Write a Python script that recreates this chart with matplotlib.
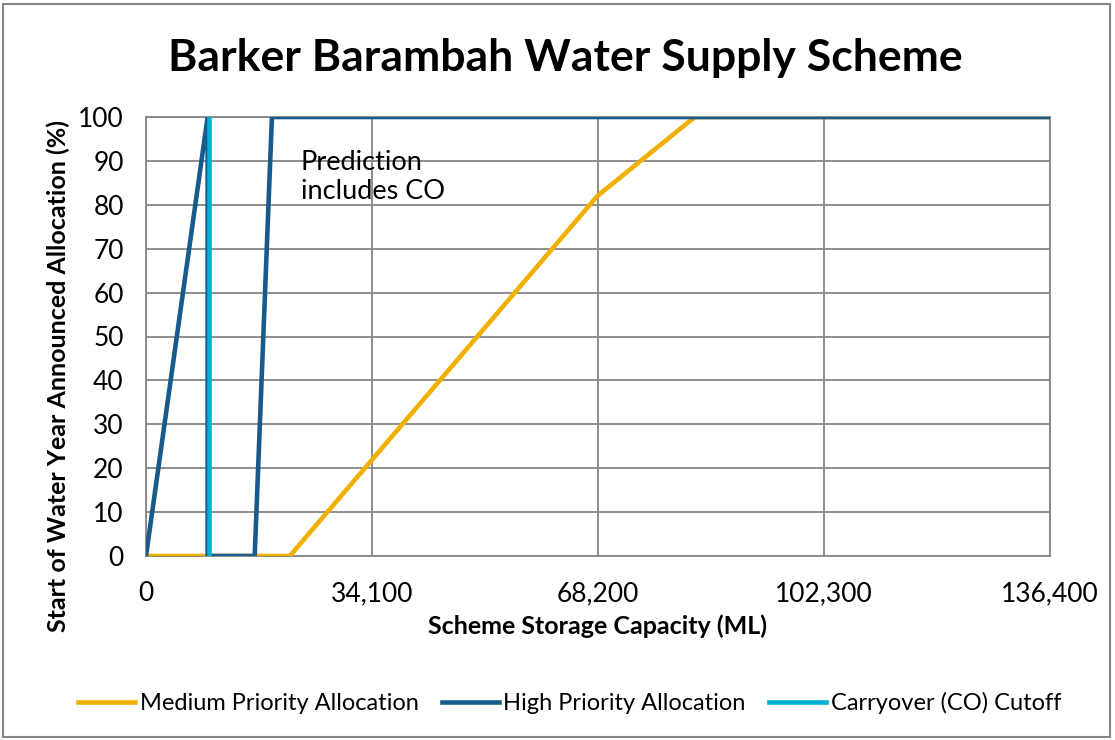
import matplotlib.pyplot as plt
from matplotlib.patches import Rectangle

# data
medium_x = [0, 21700, 68100, 82800, 136400]
medium_y = [0, 0, 82, 100, 100]
high_x = [0, 9300, 9300, 16400, 19000, 136400]
high_y = [0, 100, 0, 0, 100, 100]
co_x = [9500, 9500]
co_y = [0, 100]
x_ticks = [0, 34100, 68200, 102300, 136400]
y_ticks = list(range(0, 101, 10))

plt.rcParams['font.family'] = ['Lato', 'DejaVu Sans']

fig = plt.figure(figsize=(11.15, 7.4), dpi=100)
ax = fig.add_axes([146 / 1115, 1 - 556 / 740, 904 / 1115, 439 / 740])

grid_c = '#868686'
ax.plot(medium_x, medium_y, color='#F0B000', lw=3.3, solid_joinstyle='miter', zorder=3,
        label='Medium Priority Allocation')
ax.plot(high_x, high_y, color='#185A8C', lw=3.3, solid_joinstyle='miter', zorder=4,
        label='High Priority Allocation')
ax.plot(co_x, co_y, color='#00B0D4', lw=3.3, zorder=5, label='Carryover (CO) Cutoff')

ax.set_xlim(0, 136400)
ax.set_ylim(0, 100)
ax.set_xticks(x_ticks)
ax.set_xticklabels(['{:,}'.format(v) for v in x_ticks])
ax.set_yticks(y_ticks)
ax.grid(True, color=grid_c, lw=1.3)
ax.set_axisbelow(True)
for s in ax.spines.values():
    s.set_color(grid_c)
    s.set_linewidth(1.3)
ax.tick_params(length=0, labelsize=19)
ax.tick_params(axis='y', pad=16)
ax.tick_params(axis='x', pad=18)

ax.set_xlabel('Scheme Storage Capacity (ML)', fontsize=18, fontweight='bold', labelpad=6)
ax.set_ylabel('Start of Water Year Announced Allocation (%)', fontsize=18,
              fontweight='bold')
ax.yaxis.set_label_coords(-0.084, 0.41)

ax.text(0.171, 0.925, 'Prediction\nincludes CO', transform=ax.transAxes, fontsize=19.5,
        va='top', ha='left', linespacing=1.2)

fig.text(0.507, 0.922, 'Barker Barambah Water Supply Scheme', fontsize=32,
         fontweight='bold', ha='center', va='center')

fig.legend(loc='center', bbox_to_anchor=(0.511, 0.05), ncol=3, frameon=False,
           fontsize=17, handlelength=2.4, handletextpad=0.2, columnspacing=1.0)

fig.patches.append(Rectangle((3 / 1115, 3 / 740), 1107 / 1115, 733 / 740,
                             transform=fig.transFigure, fill=False,
                             edgecolor=grid_c, lw=1.5))

fig.savefig('out.png', dpi=100)
